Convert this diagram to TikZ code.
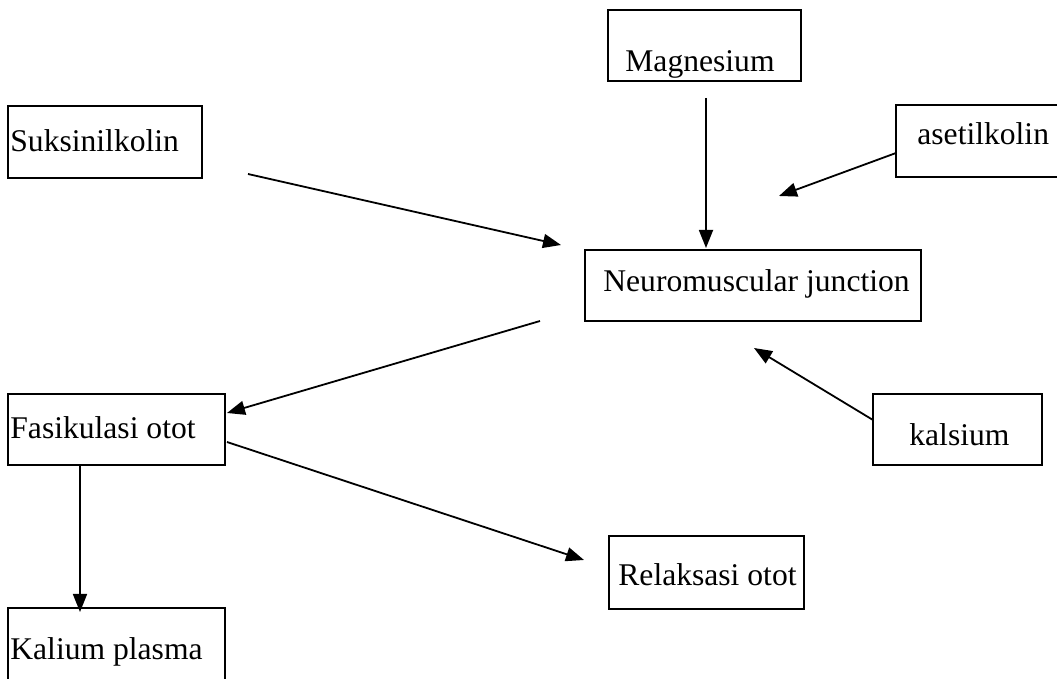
\documentclass[tikz,border=0pt]{standalone}
\usepackage{fontspec}
\setmainfont{Liberation Serif}
\usepackage{tikz}
\usetikzlibrary{arrows.meta}

\tikzset{
kotak/.style={line width=1pt},
teks/.style={anchor=base west,inner sep=0pt,font=\fontsize{15.8}{19}\selectfont},
panah/.style={-{Triangle[length=9pt,width=7pt]},line width=0.9pt}
}

\begin{document}
\begin{tikzpicture}[x=0.5pt,y=-0.5pt]
\clip(0,0) rectangle (1057,679);
% kotak
\draw[kotak](8,106) rectangle (202,178)
(608,10) rectangle (801,81)
(896,105) rectangle (1070,177)
(585,250) rectangle (921,321)
(8,394) rectangle (225,465)
(873,394) rectangle (1042,465)
(609,536) rectangle (804,609)
(8,608) rectangle (225,700);
% teks
\path(10,152)node[teks](suk){Suksinilkolin}
(625,72)node[teks](mag){Magnesium}
(917,145)node[teks](aset){asetilkolin}
(603,292)node[teks](nmj){Neuromuscular junction}
(10,439)node[teks](fas){Fasikulasi otot}
(909,446)node[teks](kals){kalsium}
(618,586)node[teks](rel){Relaksasi otot}
(10,660)node[teks](kal){Kalium plasma}
;
% ujung panah
\coordinate(suk-a) at (248,174);
\coordinate(nmj-a) at (561,245);
\coordinate(mag-a) at (706,98);
\coordinate(nmj-b) at (706,248);
\coordinate(aset-a) at (896,153);
\coordinate(nmj-c) at (779,196);
\coordinate(kals-a) at (873,420);
\coordinate(nmj-d) at (754,348);
\coordinate(nmj-e) at (540,321);
\coordinate(fas-a) at (227,413);
\coordinate(fas-b) at (227,442);
\coordinate(rel-a) at (584,560);
\coordinate(fas-c) at (80,465);
\coordinate(kal-a) at (80,612);
\draw[panah](suk-a)--(nmj-a);
\draw[panah](mag-a)--(nmj-b);
\draw[panah](aset-a)--(nmj-c);
\draw[panah](kals-a)--(nmj-d);
\draw[panah](nmj-e)--(fas-a);
\draw[panah](fas-b)--(rel-a);
\draw[panah](fas-c)--(kal-a);
\end{tikzpicture}
\end{document}
